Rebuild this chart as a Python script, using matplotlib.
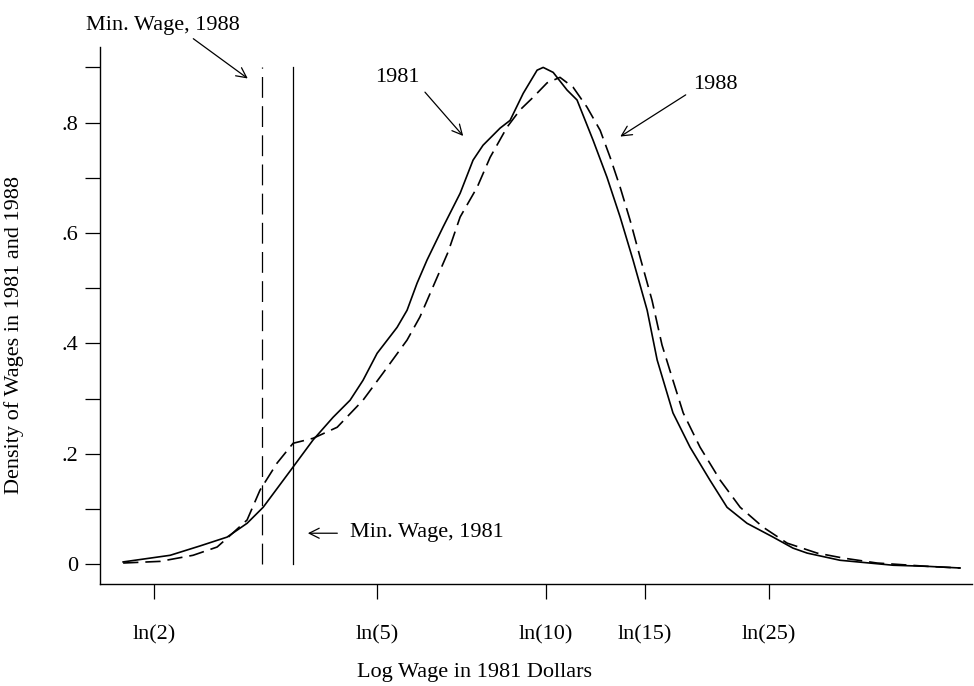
import numpy as np
import matplotlib
matplotlib.use("Agg")
import matplotlib.pyplot as plt

plt.rcParams["font.family"] = ["Liberation Serif", "DejaVu Serif"]
plt.rcParams["lines.scale_dashes"] = False

# log wage (1981 dollars) and density, 1981 (solid)
x81 = [0.566, 0.759, 0.882, 0.993, 1.075, 1.141, 1.264, 1.346, 1.428, 1.498,
       1.551, 1.609, 1.691, 1.732, 1.773, 1.814, 1.880, 1.950, 2.003, 2.044,
       2.114, 2.155, 2.209, 2.266, 2.291, 2.332, 2.389, 2.430, 2.496, 2.553,
       2.607, 2.660, 2.718, 2.759, 2.824, 2.894, 2.976, 3.046, 3.128, 3.235,
       3.317, 3.375, 3.510, 3.728, 3.868, 4.003]
d81 = [0.004, 0.016, 0.033, 0.049, 0.074, 0.103, 0.176, 0.225, 0.266, 0.297,
       0.333, 0.382, 0.429, 0.460, 0.509, 0.551, 0.611, 0.672, 0.732, 0.759,
       0.790, 0.804, 0.853, 0.895, 0.900, 0.891, 0.859, 0.841, 0.768, 0.701,
       0.629, 0.551, 0.460, 0.370, 0.274, 0.212, 0.152, 0.103, 0.074, 0.049,
       0.029, 0.020, 0.007, -0.002, -0.004, -0.007]

# 1988 (dashed)
x88 = [0.566, 0.718, 0.853, 0.952, 0.993, 1.075, 1.128, 1.198, 1.264, 1.346,
       1.445, 1.551, 1.633, 1.732, 1.785, 1.900, 1.950, 2.020, 2.073, 2.143,
       2.196, 2.250, 2.307, 2.360, 2.414, 2.471, 2.525, 2.566, 2.607, 2.648,
       2.689, 2.738, 2.779, 2.824, 2.866, 2.935, 3.018, 3.100, 3.194, 3.293,
       3.416, 3.523, 3.662, 3.868, 4.003]
d88 = [0.002, 0.005, 0.016, 0.031, 0.047, 0.080, 0.134, 0.183, 0.219, 0.228,
       0.248, 0.297, 0.346, 0.406, 0.448, 0.565, 0.629, 0.683, 0.737, 0.792,
       0.823, 0.846, 0.872, 0.882, 0.864, 0.828, 0.786, 0.737, 0.683, 0.623,
       0.556, 0.478, 0.397, 0.333, 0.274, 0.212, 0.152, 0.103, 0.067, 0.038,
       0.020, 0.011, 0.002, -0.004, -0.007]

minwage_88 = 1.137
minwage_81 = 1.264

xtick_vals = np.log([2, 5, 10, 15, 25])
xtick_labels = ["ln(2)", "ln(5)", "ln(10)", "ln(15)", "ln(25)"]
ytick_vals = [0, 0.1, 0.2, 0.3, 0.4, 0.5, 0.6, 0.7, 0.8, 0.9]
ytick_labels = ["0", "", ".2", "", ".4", "", ".6", "", ".8", ""]

FS = 16

fig = plt.figure(figsize=(9.74, 6.86), dpi=100)
ax = fig.add_axes([100 / 974, 102 / 686, 872 / 974, 537 / 686])

ax.plot(x81, d81, color="black", lw=1.2)
ax.plot(x88, d88, color="black", lw=1.2, dashes=(11, 5))

ax.plot([minwage_88, minwage_88], [0, 0.9], color="black", lw=0.9, dashes=(15, 6))
ax.plot([minwage_81, minwage_81], [0, 0.9], color="black", lw=0.9)

ax.set_xlim(0.471, 4.052)
ax.set_ylim(-0.036, 0.937)

for s in ["top", "right"]:
    ax.spines[s].set_visible(False)
for s in ["left", "bottom"]:
    ax.spines[s].set_linewidth(1.0)

ax.set_xticks(xtick_vals)
ax.set_xticklabels(xtick_labels)
ax.set_yticks(ytick_vals)
ax.set_yticklabels(ytick_labels)
ax.tick_params(length=11, width=0.9, labelsize=FS)
ax.tick_params(axis="x", pad=19)
ax.tick_params(axis="y", pad=5)

ax.set_xlabel("Log Wage in 1981 Dollars", fontsize=FS, labelpad=13, x=0.43)
ax.set_ylabel("Density of Wages in 1981 and 1988", fontsize=FS, labelpad=27, y=0.464)

arrow = dict(arrowstyle="->", lw=0.9, color="black", mutation_scale=18)

ax.text(0.730, 0.958, "Min. Wage, 1988", fontsize=FS, ha="center", va="bottom")
ax.annotate("", xy=(1.087, 0.877), xytext=(0.845, 0.955), arrowprops=arrow,
            annotation_clip=False)

ax.text(1.694, 0.865, "1981", fontsize=FS, ha="center", va="bottom")
ax.annotate("", xy=(1.970, 0.772), xytext=(1.798, 0.859), arrowprops=arrow)

ax.text(3.000, 0.852, "1988", fontsize=FS, ha="center", va="bottom")
ax.annotate("", xy=(2.598, 0.772), xytext=(2.886, 0.853), arrowprops=arrow)

ax.text(1.498, 0.058, "Min. Wage, 1981", fontsize=FS, ha="left", va="center")
ax.annotate("", xy=(1.313, 0.056), xytext=(1.457, 0.056), arrowprops=arrow)

fig.savefig("out.png", dpi=100)
